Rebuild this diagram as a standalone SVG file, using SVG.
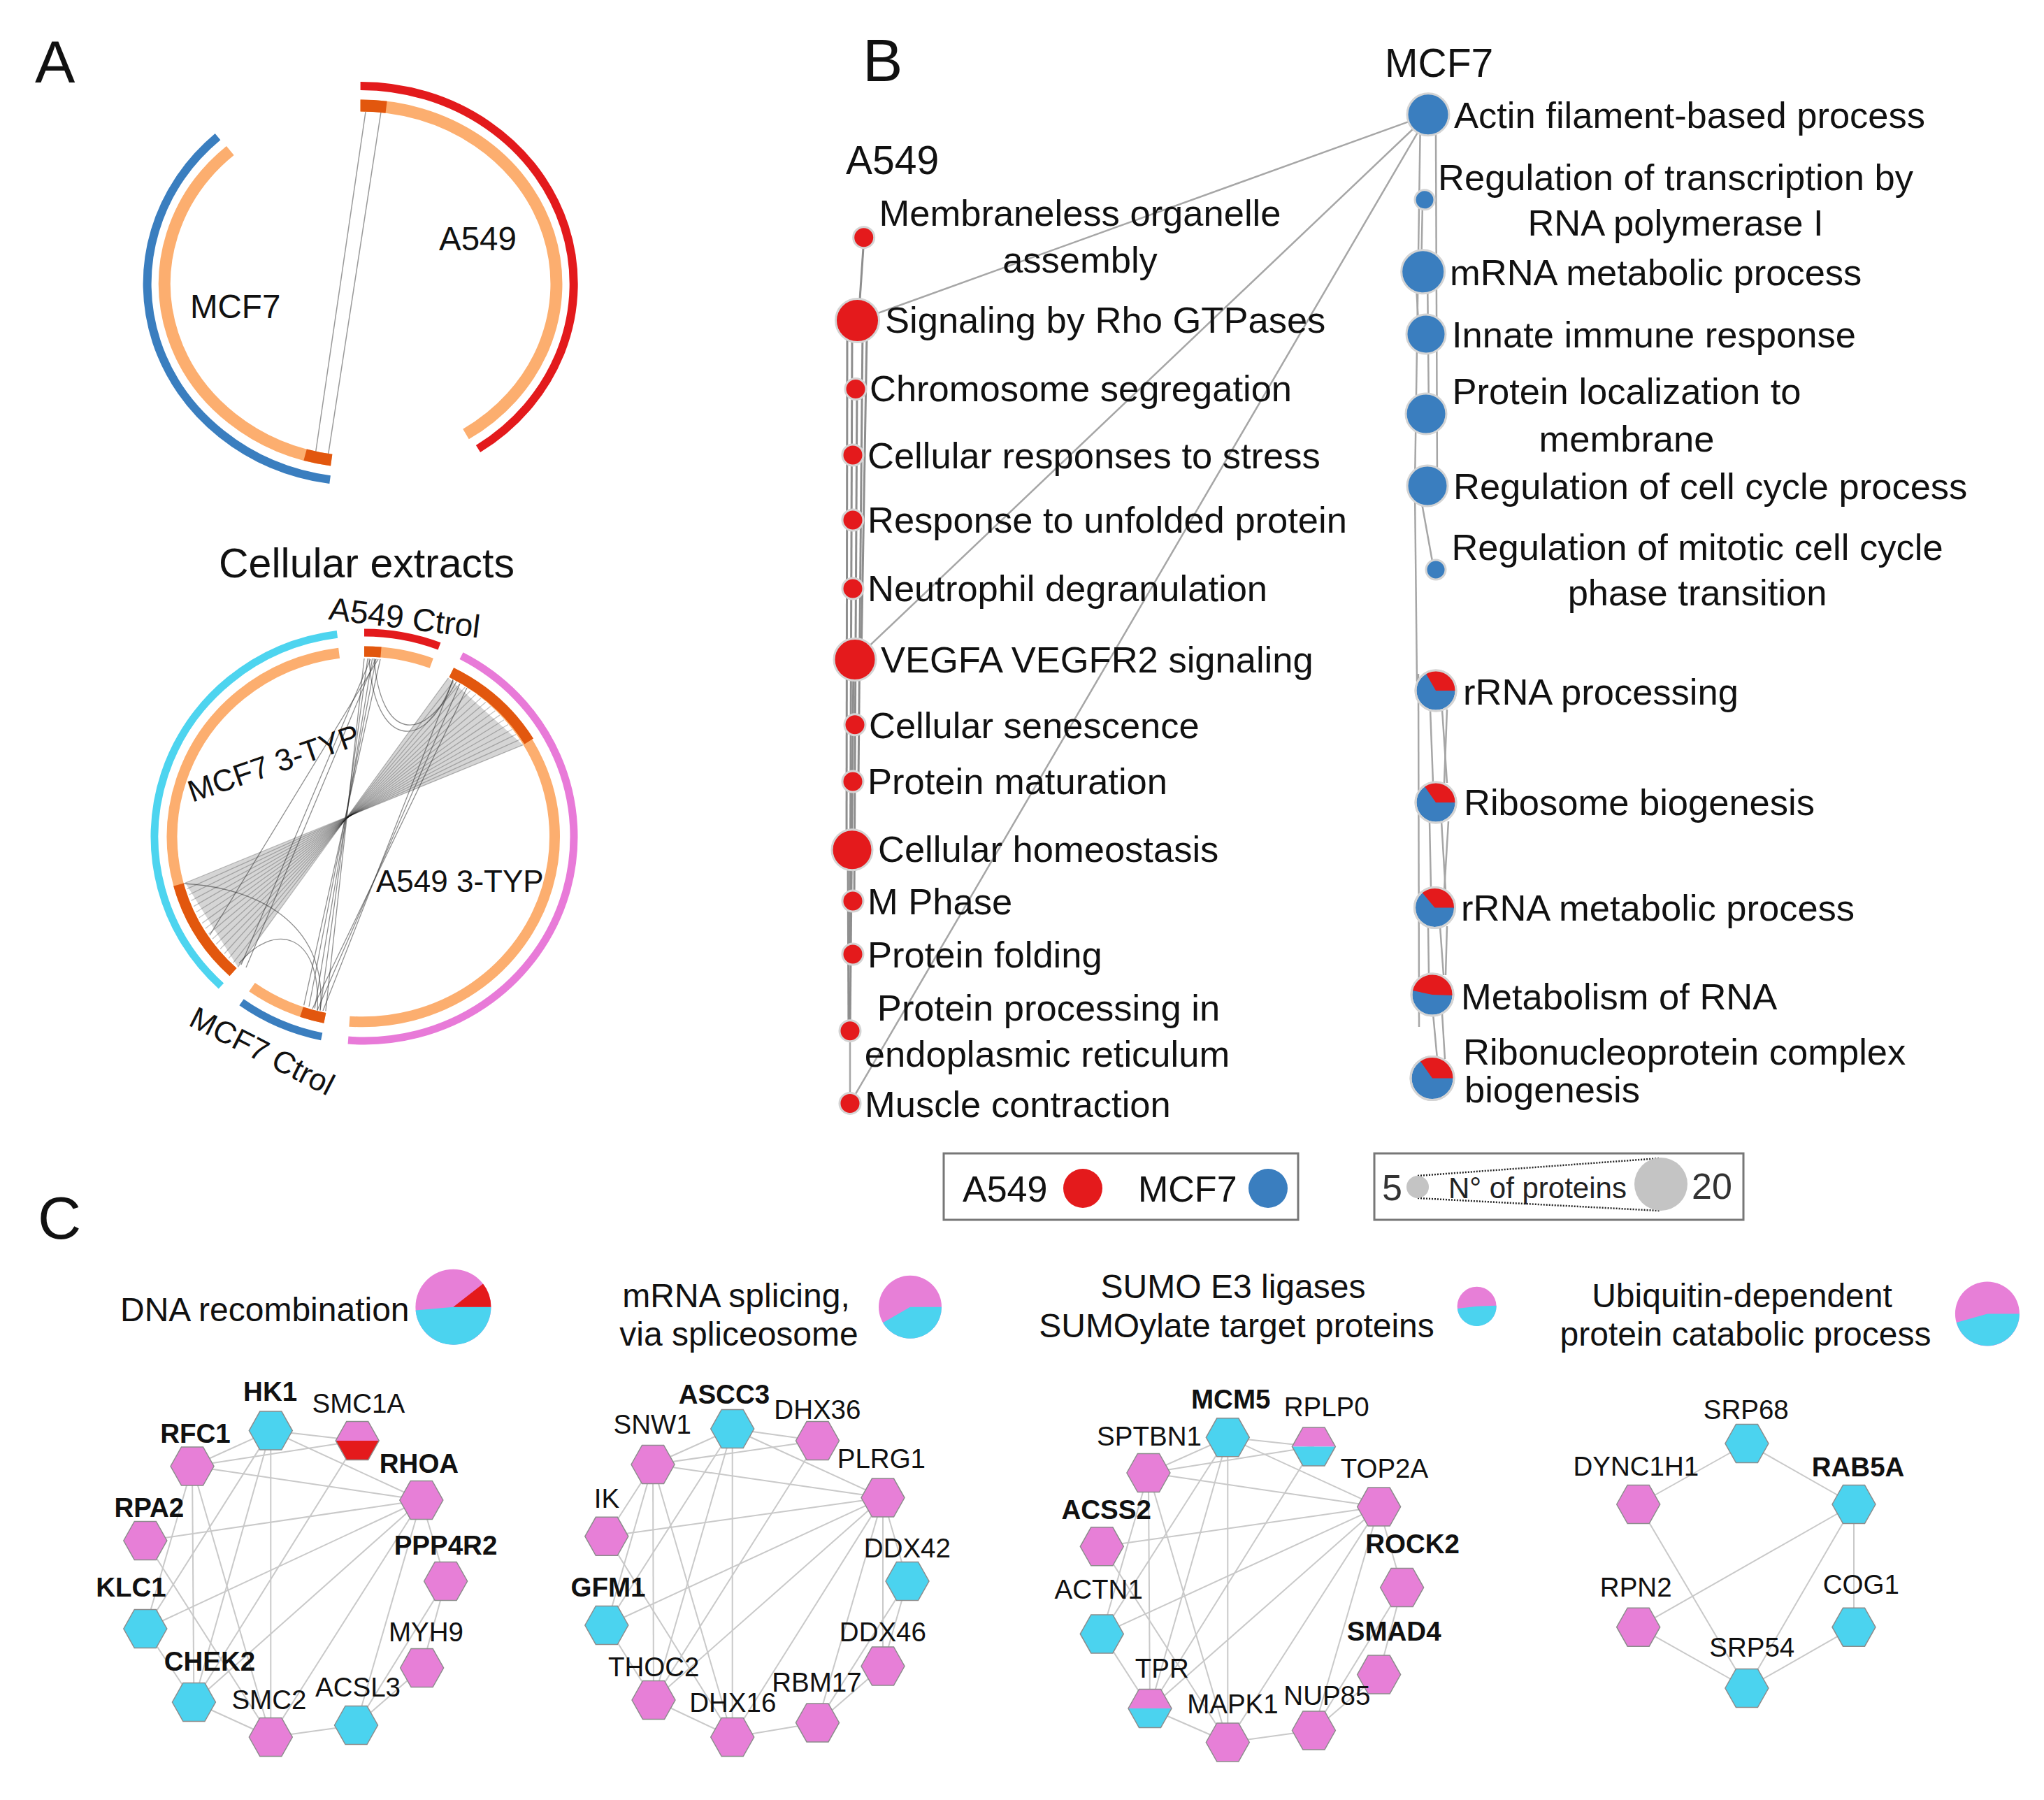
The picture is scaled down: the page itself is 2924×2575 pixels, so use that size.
<svg xmlns="http://www.w3.org/2000/svg" xmlns:xlink="http://www.w3.org/1999/xlink" width="2924" height="2575" viewBox="0 0 2924 2575">
<style>
text{font-family:"Liberation Sans",Arial,Helvetica,sans-serif;fill:#111}
.m{text-anchor:middle}
.pl{font-size:86px}
.al{font-size:47.5px}
.cl{font-size:44px}
.bt{font-size:57px}
.bl{font-size:52.5px}
.gl{font-size:38.5px}
.gb{font-size:38.5px;font-weight:bold}
.ct{font-size:48px}
.e{stroke:#c9c9c9;stroke-width:2;fill:none}
.be{stroke:#a6a6a6;stroke-width:2.5;fill:none}
.bv{stroke:#8e8e8e;stroke-width:3;fill:none}
.red{fill:#e41a1c}
.blu{fill:#3a7ebf}
.nd{stroke:#d4d4d4;stroke-width:3}
.mg{fill:#e77fd7}
.cy{fill:#4bd3ef}
.hx{stroke:#8c8c8c;stroke-width:1.5}
.ho{fill:none;stroke:#8c8c8c;stroke-width:1.5}
.arc{fill:none;stroke-linecap:butt}
.ch{stroke:#000;stroke-opacity:.24;stroke-width:1.3;fill:none}
.ch2{stroke:#333;stroke-opacity:.55;stroke-width:1.3;fill:none}
</style>
<defs>
<polygon id="hx" points="-31,0 -15.5,-27.5 15.5,-27.5 31,0 15.5,27.5 -15.5,27.5"/>
<polygon id="hxT" points="-31,0 -15.5,-27.5 15.5,-27.5 31,0"/>
<polygon id="hxB" points="-31,0 31,0 15.5,27.5 -15.5,27.5"/>
</defs>
<rect width="2924" height="2575" fill="#fff"/>

<!-- panel letters -->
<text class="pl" x="50" y="118">A</text>
<text class="pl" x="1234" y="116">B</text>
<text class="pl" x="54" y="1772">C</text>

<!-- ===== Panel A top chord ===== -->
<g id="chord-top">
<line x1="523" y1="160" x2="451" y2="651" stroke="#9a9a9a" stroke-width="1.5"/>
<line x1="545" y1="160" x2="469" y2="654" stroke="#9a9a9a" stroke-width="1.5"/>
<path class="arc" d="M515.6 123 A305 283 0 0 1 684 642" stroke="#e31a1c" stroke-width="12"/>
<path class="arc" d="M515.6 151 A280 255 0 0 1 666.5 621" stroke="#fcae6f" stroke-width="17"/>
<path class="arc" d="M515.6 151 A280 255 0 0 1 552.6 153.3" stroke="#e2570e" stroke-width="17"/>
<path class="arc" d="M472.1 686.1 A305 283 0 0 1 311.5 195.7" stroke="#3a7ebf" stroke-width="12"/>
<path class="arc" d="M474.2 658.2 A280 255 0 0 1 329.3 215.5" stroke="#fcae6f" stroke-width="17"/>
<path class="arc" d="M474.2 658.2 A280 255 0 0 1 436.6 650.6" stroke="#e2570e" stroke-width="17"/>
<text class="al" x="628" y="358">A549</text>
<text class="al" x="272" y="455">MCF7</text>
</g>

<!-- ===== Panel A bottom chord ===== -->
<g id="chord-cellular">
<text x="313" y="826" style="font-size:59px">Cellular extracts</text>
<polygon points="641.3,969.8 748.2,1065.7 496,1169" fill="#8a8a8a" fill-opacity=".36"/>
<polygon points="265,1263 340.3,1383.5 496,1169" fill="#8a8a8a" fill-opacity=".36"/>
<g class="ch">
<line x1="641.3" y1="969.8" x2="340.3" y2="1383.5"/>
<line x1="649.5" y1="974" x2="333.6" y2="1377.3"/>
<line x1="657.5" y1="978.4" x2="327.2" y2="1370.9"/>
<line x1="665.3" y1="983.1" x2="321" y2="1364.3"/>
<line x1="673" y1="988.1" x2="315.1" y2="1357.5"/>
<line x1="680.5" y1="993.4" x2="309.4" y2="1350.5"/>
<line x1="687.8" y1="998.8" x2="303.9" y2="1343.3"/>
<line x1="694.9" y1="1004.6" x2="298.7" y2="1335.9"/>
<line x1="701.7" y1="1010.5" x2="293.8" y2="1328.3"/>
<line x1="708.4" y1="1016.7" x2="289.2" y2="1320.6"/>
<line x1="714.8" y1="1023.1" x2="284.9" y2="1312.8"/>
<line x1="721" y1="1029.7" x2="280.8" y2="1304.8"/>
<line x1="726.9" y1="1036.5" x2="277.1" y2="1296.6"/>
<line x1="732.6" y1="1043.5" x2="273.6" y2="1288.4"/>
<line x1="738.1" y1="1050.7" x2="270.4" y2="1280"/>
<line x1="743.3" y1="1058.1" x2="267.6" y2="1271.6"/>
<line x1="748.2" y1="1065.7" x2="265" y2="1263"/>
</g>
<g class="ch2">
<line x1="521" y1="942" x2="465.9" y2="1446.4"/>
<line x1="526" y1="942" x2="458" y2="1445"/>
<line x1="532.6" y1="942.2" x2="450.2" y2="1442.7"/>
<line x1="538" y1="942.5" x2="442" y2="1440"/>
<line x1="544" y1="943" x2="434.7" y2="1438.1"/>
<path d="M528 942 C535 1070 610 1080 648 972"/>
<path d="M535 942 C545 1060 605 1065 653 975"/>
<path d="M262 1264 C380 1270 470 1330 458 1446"/>
<path d="M342 1378 C390 1320 460 1330 454 1446"/>
<line x1="648" y1="973" x2="462" y2="1446"/>
<line x1="658" y1="978" x2="454" y2="1445"/>
<line x1="668" y1="984" x2="447" y2="1443"/>
<line x1="345" y1="1380" x2="530" y2="943"/>
<line x1="352" y1="1384" x2="537" y2="943"/>
<line x1="300" y1="1338" x2="541" y2="943"/>
</g>
<path class="arc" d="M316.4 1410.5 A300 292 0 0 1 482.4 907.4" stroke="#4dd4ef" stroke-width="11"/>
<path class="arc" d="M521 905 A300 292 0 0 1 628.5 924.4" stroke="#e31a1c" stroke-width="11"/>
<path class="arc" d="M660 938.2 A300 292 0 0 1 498 1488.1" stroke="#e87ad8" stroke-width="11"/>
<path class="arc" d="M460.2 1482.9 A300 292 0 0 1 345.5 1433.8" stroke="#3a7ebf" stroke-width="11"/>
<path class="arc" d="M521 932 A275 265 0 0 1 617.3 948.8" stroke="#fcae6f" stroke-width="15"/>
<path class="arc" d="M645.8 961.9 A275 265 0 0 1 499.9 1461.2" stroke="#fcae6f" stroke-width="15"/>
<path class="arc" d="M333.5 1390.7 A275 265 0 0 1 485.1 934.3" stroke="#fcae6f" stroke-width="15"/>
<path class="arc" d="M464.8 1456.4 A275 265 0 0 1 360.5 1412.2" stroke="#fcae6f" stroke-width="15"/>
<path class="arc" d="M521 932 A275 265 0 0 1 545 933" stroke="#e2570e" stroke-width="15"/>
<path class="arc" d="M645.8 961.9 A275 265 0 0 1 756.7 1060.5" stroke="#e2570e" stroke-width="15"/>
<path class="arc" d="M333.5 1390.7 A275 265 0 0 1 255.4 1265.6" stroke="#e2570e" stroke-width="15"/>
<path class="arc" d="M464.8 1456.4 A275 265 0 0 1 431.5 1447.6" stroke="#e2570e" stroke-width="15"/>
<text style="font-size:46px" transform="translate(469 886) rotate(7)">A549 Ctrol</text>
<text class="cl" transform="translate(275 1148) rotate(-19)">MCF7 3-TYP</text>
<text class="cl" x="538" y="1276">A549 3-TYP</text>
<text class="cl" transform="translate(268 1466) rotate(27)">MCF7 Ctrol</text>
</g>

<!-- ===== connectors ===== -->
<g id="connectors">
<g id="edges-B">
<line class="be" x1="2043" y1="164" x2="1226.5" y2="458.6"/>
<line class="be" x1="2043" y1="164" x2="1223" y2="943.6"/>
<line class="be" x1="2043" y1="164" x2="1216" y2="1578.4"/>
<line class="bv" x1="1236" y1="340" x2="1228" y2="458"/>
<line class="bv" x1="1212" y1="470" x2="1211" y2="1216"/>
<line class="bv" x1="1219" y1="480" x2="1216" y2="1365"/>
<line class="bv" x1="1240" y1="478" x2="1232" y2="944"/>
<line class="bv" x1="1234" y1="470" x2="1228" y2="1118"/>
<line class="bv" x1="1226" y1="556" x2="1222" y2="1289"/>
<line class="bv" x1="1221" y1="944" x2="1216" y2="1475"/>
<line class="bv" x1="1213" y1="1216" x2="1214" y2="1475"/>
<line class="be" x1="1216" y1="1475" x2="1216" y2="1578"/>
<line class="be" x1="2032" y1="164" x2="2024" y2="695"/>
<line class="be" x1="2054" y1="190" x2="2056" y2="695"/>
<line class="be" x1="2035" y1="290" x2="2033" y2="389"/>
<line class="be" x1="2042" y1="389" x2="2044" y2="592"/>
<line class="be" x1="2026" y1="410" x2="2030" y2="478"/>
<line class="be" x1="2024" y1="700" x2="2027" y2="975"/>
<line class="be" x1="2034" y1="720" x2="2049" y2="803"/>
<line class="be" x1="2029" y1="964" x2="2030" y2="1469"/>
<line class="be" x1="2046" y1="1015" x2="2050" y2="1120"/>
<line class="be" x1="2063" y1="1015" x2="2070" y2="1120"/>
<line class="be" x1="2070" y1="1015" x2="2066" y2="1120"/>
<line class="be" x1="2045" y1="1175" x2="2047" y2="1270"/>
<line class="be" x1="2062" y1="1175" x2="2068" y2="1275"/>
<line class="be" x1="2072" y1="1175" x2="2066" y2="1275"/>
<line class="be" x1="2043" y1="1325" x2="2044" y2="1395"/>
<line class="be" x1="2060" y1="1325" x2="2065" y2="1395"/>
<line class="be" x1="2070" y1="1325" x2="2068" y2="1395"/>
<line class="be" x1="2050" y1="1450" x2="2056" y2="1515"/>
<line class="be" x1="2063" y1="1450" x2="2067" y2="1515"/>
</g>
<g id="edges-C1" class="e">
<line x1="387.3" y1="2046.6" x2="511.2" y2="2061"/>
<line x1="387.3" y1="2046.6" x2="602.8" y2="2146"/>
<line x1="387.3" y1="2046.6" x2="275" y2="2097.5"/>
<line x1="387.3" y1="2046.6" x2="207.8" y2="2330"/>
<line x1="387.3" y1="2046.6" x2="277.4" y2="2435"/>
<line x1="387.3" y1="2046.6" x2="387.3" y2="2485"/>
<line x1="275" y1="2097.5" x2="511.2" y2="2061"/>
<line x1="275" y1="2097.5" x2="602.8" y2="2146"/>
<line x1="275" y1="2097.5" x2="207.8" y2="2330"/>
<line x1="275" y1="2097.5" x2="277.4" y2="2435"/>
<line x1="275" y1="2097.5" x2="387.3" y2="2485"/>
<line x1="511.2" y1="2061" x2="277.4" y2="2435"/>
<line x1="602.8" y1="2146" x2="207.8" y2="2204"/>
<line x1="602.8" y1="2146" x2="207.8" y2="2330"/>
<line x1="602.8" y1="2146" x2="277.4" y2="2435"/>
<line x1="602.8" y1="2146" x2="387.3" y2="2485"/>
<line x1="602.8" y1="2146" x2="509.5" y2="2468"/>
<line x1="602.8" y1="2146" x2="637.6" y2="2262"/>
<line x1="207.8" y1="2204" x2="387.3" y2="2485"/>
<line x1="637.6" y1="2262" x2="603.6" y2="2386"/>
<line x1="637.6" y1="2262" x2="509.5" y2="2468"/>
<line x1="603.6" y1="2386" x2="509.5" y2="2468"/>
<line x1="387.3" y1="2485" x2="509.5" y2="2468"/>
<line x1="277.4" y1="2435" x2="387.3" y2="2485"/>
<line x1="207.8" y1="2330" x2="277.4" y2="2435"/>
</g>
<g id="edges-C2" class="e">
<line x1="1047.7" y1="2044" x2="1169.5" y2="2061"/>
<line x1="1047.7" y1="2044" x2="1263" y2="2142.6"/>
<line x1="1047.7" y1="2044" x2="934" y2="2095"/>
<line x1="1047.7" y1="2044" x2="867.8" y2="2325"/>
<line x1="1047.7" y1="2044" x2="935" y2="2432"/>
<line x1="1047.7" y1="2044" x2="1047.7" y2="2485"/>
<line x1="934" y1="2095" x2="1169.5" y2="2061"/>
<line x1="934" y1="2095" x2="1263" y2="2142.6"/>
<line x1="934" y1="2095" x2="867.8" y2="2197.8"/>
<line x1="934" y1="2095" x2="867.8" y2="2325"/>
<line x1="934" y1="2095" x2="935" y2="2432"/>
<line x1="934" y1="2095" x2="1047.7" y2="2485"/>
<line x1="1169.5" y1="2061" x2="935" y2="2432"/>
<line x1="1263" y1="2142.6" x2="867.8" y2="2197.8"/>
<line x1="1263" y1="2142.6" x2="867.8" y2="2325"/>
<line x1="1263" y1="2142.6" x2="935" y2="2432"/>
<line x1="1263" y1="2142.6" x2="1047.7" y2="2485"/>
<line x1="1263" y1="2142.6" x2="1169.5" y2="2464.4"/>
<line x1="1263" y1="2142.6" x2="1298" y2="2262"/>
<line x1="1263" y1="2142.6" x2="1263" y2="2383.5"/>
<line x1="867.8" y1="2197.8" x2="1047.7" y2="2485"/>
<line x1="867.8" y1="2325" x2="935" y2="2432"/>
<line x1="1298" y1="2262" x2="1263" y2="2383.5"/>
<line x1="1298" y1="2262" x2="1169.5" y2="2464.4"/>
<line x1="1263" y1="2383.5" x2="1169.5" y2="2464.4"/>
<line x1="935" y1="2432" x2="1047.7" y2="2485"/>
<line x1="1047.7" y1="2485" x2="1169.5" y2="2464.4"/>
</g>
<g id="edges-C3" class="e">
<line x1="1756.3" y1="2056.3" x2="1879.4" y2="2069.4"/>
<line x1="1756.3" y1="2056.3" x2="1972.6" y2="2155.6"/>
<line x1="1756.3" y1="2056.3" x2="1642.9" y2="2107"/>
<line x1="1756.3" y1="2056.3" x2="1576.3" y2="2337.4"/>
<line x1="1756.3" y1="2056.3" x2="1645" y2="2444"/>
<line x1="1756.3" y1="2056.3" x2="1756.3" y2="2492.5"/>
<line x1="1642.9" y1="2107" x2="1879.4" y2="2069.4"/>
<line x1="1642.9" y1="2107" x2="1972.6" y2="2155.6"/>
<line x1="1642.9" y1="2107" x2="1576.3" y2="2337.4"/>
<line x1="1642.9" y1="2107" x2="1645" y2="2444"/>
<line x1="1642.9" y1="2107" x2="1756.3" y2="2492.5"/>
<line x1="1879.4" y1="2069.4" x2="1645" y2="2444"/>
<line x1="1972.6" y1="2155.6" x2="1576.3" y2="2212.3"/>
<line x1="1972.6" y1="2155.6" x2="1576.3" y2="2337.4"/>
<line x1="1972.6" y1="2155.6" x2="1645" y2="2444"/>
<line x1="1972.6" y1="2155.6" x2="1756.3" y2="2492.5"/>
<line x1="1972.6" y1="2155.6" x2="1879.4" y2="2475.5"/>
<line x1="1972.6" y1="2155.6" x2="2005.6" y2="2271"/>
<line x1="1576.3" y1="2212.3" x2="1756.3" y2="2492.5"/>
<line x1="1576.3" y1="2337.4" x2="1645" y2="2444"/>
<line x1="2005.6" y1="2271" x2="1972.6" y2="2395.6"/>
<line x1="2005.6" y1="2271" x2="1879.4" y2="2475.5"/>
<line x1="1972.6" y1="2395.6" x2="1879.4" y2="2475.5"/>
<line x1="1645" y1="2444" x2="1756.3" y2="2492.5"/>
<line x1="1756.3" y1="2492.5" x2="1879.4" y2="2475.5"/>
</g>
<g id="edges-C4" class="e">
<line x1="2498.9" y1="2065" x2="2343.7" y2="2152"/>
<line x1="2498.9" y1="2065" x2="2652" y2="2152"/>
<line x1="2343.7" y1="2152" x2="2498.9" y2="2415"/>
<line x1="2652" y1="2152" x2="2343.7" y2="2327.7"/>
<line x1="2652" y1="2152" x2="2498.9" y2="2415"/>
<line x1="2652" y1="2152" x2="2652" y2="2327.7"/>
<line x1="2343.7" y1="2327.7" x2="2498.9" y2="2415"/>
<line x1="2652" y1="2327.7" x2="2498.9" y2="2415"/>
</g>
</g>

<!-- ===== Panel B nodes ===== -->
<text class="bt" x="1210" y="249">A549</text>
<text class="bt" x="1981" y="110">MCF7</text>

<g id="b-membraneless"><circle class="red nd" cx="1235.7" cy="339.7" r="15"/><text class="bl m" x="1545" y="323">Membraneless organelle</text><text class="bl m" x="1545" y="390">assembly</text></g>
<g id="b-rho"><circle class="red nd" cx="1226.5" cy="458.6" r="31"/><text class="bl" x="1266" y="476">Signaling by Rho GTPases</text></g>
<g id="b-chromosome"><circle class="red nd" cx="1224" cy="556.5" r="15"/><text class="bl" x="1244" y="574">Chromosome segregation</text></g>
<g id="b-stress"><circle class="red nd" cx="1220" cy="651" r="15"/><text class="bl" x="1241" y="670">Cellular responses to stress</text></g>
<g id="b-unfolded"><circle class="red nd" cx="1220" cy="744" r="15"/><text class="bl" x="1241" y="762">Response to unfolded protein</text></g>
<g id="b-neutrophil"><circle class="red nd" cx="1220" cy="842" r="15"/><text class="bl" x="1241" y="860">Neutrophil degranulation</text></g>
<g id="b-vegfa"><circle class="red nd" cx="1223" cy="943.6" r="30"/><text class="bl" x="1260" y="962">VEGFA VEGFR2 signaling</text></g>
<g id="b-senescence"><circle class="red nd" cx="1223" cy="1036.8" r="15"/><text class="bl" x="1243" y="1056">Cellular senescence</text></g>
<g id="b-maturation"><circle class="red nd" cx="1220" cy="1118" r="15"/><text class="bl" x="1241" y="1136">Protein maturation</text></g>
<g id="b-homeostasis"><circle class="red nd" cx="1219" cy="1215.8" r="29"/><text class="bl" x="1256" y="1233">Cellular homeostasis</text></g>
<g id="b-mphase"><circle class="red nd" cx="1220" cy="1289" r="15"/><text class="bl" x="1241" y="1308">M Phase</text></g>
<g id="b-folding"><circle class="red nd" cx="1220" cy="1365" r="15"/><text class="bl" x="1241" y="1384">Protein folding</text></g>
<g id="b-processing"><circle class="red nd" cx="1216" cy="1474.7" r="15"/><text class="bl m" x="1500" y="1460">Protein processing in</text><text class="bl m" x="1498" y="1526">endoplasmic reticulum</text></g>
<g id="b-muscle"><circle class="red nd" cx="1216" cy="1578.4" r="15"/><text class="bl" x="1237" y="1598">Muscle contraction</text></g>

<g id="b-actin"><circle class="blu nd" cx="2043" cy="163.8" r="30"/><text class="bl" x="2080" y="183">Actin filament-based process</text></g>
<g id="b-transcription"><circle class="blu nd" cx="2038" cy="285.8" r="14"/><text class="bl m" x="2397" y="272">Regulation of transcription by</text><text class="bl m" x="2397" y="337">RNA polymerase I</text></g>
<g id="b-mrna"><circle class="blu nd" cx="2035.7" cy="388.8" r="31"/><text class="bl" x="2074" y="408">mRNA metabolic process</text></g>
<g id="b-innate"><circle class="blu nd" cx="2040" cy="478" r="28"/><text class="bl" x="2077" y="497">Innate immune response</text></g>
<g id="b-localization"><circle class="blu nd" cx="2040" cy="592" r="29"/><text class="bl m" x="2327" y="578">Protein localization to</text><text class="bl m" x="2327" y="646">membrane</text></g>
<g id="b-cellcycle"><circle class="blu nd" cx="2042" cy="695" r="29"/><text class="bl" x="2079" y="714">Regulation of cell cycle process</text></g>
<g id="b-mitotic"><circle class="blu nd" cx="2054" cy="815" r="14"/><text class="bl m" x="2428" y="801">Regulation of mitotic cell cycle</text><text class="bl m" x="2428" y="866">phase transition</text></g>

<g id="b-rrnaproc"><circle class="blu nd" cx="2054" cy="988" r="29"/><path class="red" d="M2054 988 L2039.5 962.9 A29 29 0 0 1 2083 988 Z"/><circle cx="2054" cy="988" r="29" fill="none" class="nd"/><text class="bl" x="2093" y="1008">rRNA processing</text></g>
<g id="b-ribosome"><circle class="blu nd" cx="2054" cy="1148" r="29"/><path class="red" d="M2054 1148 L2037.4 1124.2 A29 29 0 0 1 2083 1148 Z"/><circle cx="2054" cy="1148" r="29" fill="none" class="nd"/><text class="bl" x="2094" y="1166">Ribosome biogenesis</text></g>
<g id="b-rrnamet"><circle class="blu nd" cx="2052.5" cy="1298.4" r="29"/><path class="red" d="M2052.5 1298.4 L2033.9 1276.2 A29 29 0 0 1 2081.5 1298.4 Z"/><circle cx="2052.5" cy="1298.4" r="29" fill="none" class="nd"/><text class="bl" x="2090" y="1317">rRNA metabolic process</text></g>
<g id="b-metrna"><circle class="blu nd" cx="2049" cy="1423" r="30"/><path class="red" d="M2049 1423 L2019.7 1416.8 A30 30 0 0 1 2079 1424 Z"/><circle cx="2049" cy="1423" r="30" fill="none" class="nd"/><text class="bl" x="2090" y="1444">Metabolism of RNA</text></g>
<g id="b-rnp"><circle class="blu nd" cx="2049" cy="1542.6" r="31"/><path class="red" d="M2049 1542.6 L2031.2 1517.2 A31 31 0 0 1 2080 1542.6 Z"/><circle cx="2049" cy="1542.6" r="31" fill="none" class="nd"/><text class="bl" x="2093" y="1523">Ribonucleoprotein complex</text><text class="bl" x="2095" y="1577">biogenesis</text></g>

<!-- legends -->
<g id="legend-cells">
<rect x="1350" y="1650" width="507" height="95" fill="#fff" stroke="#777" stroke-width="3"/>
<text x="1377" y="1719" style="font-size:52px">A549</text>
<circle class="red" cx="1549" cy="1700" r="28"/>
<text x="1628" y="1719" style="font-size:52px">MCF7</text>
<circle class="blu" cx="1814" cy="1700" r="28"/>
</g>
<g id="legend-size">
<rect x="1966" y="1650" width="528" height="95" fill="#fff" stroke="#777" stroke-width="3"/>
<line x1="2028" y1="1682" x2="2374" y2="1657" stroke="#222" stroke-width="2.5" stroke-dasharray="2 2"/>
<line x1="2028" y1="1714" x2="2374" y2="1732" stroke="#222" stroke-width="2.5" stroke-dasharray="2 2"/>
<text x="1977" y="1717" style="font-size:52px;fill:#333">5</text>
<circle cx="2028" cy="1698" r="16" fill="#c4c4c4"/>
<text x="2072" y="1714" style="font-size:42px;fill:#222">N° of proteins</text>
<circle cx="2376" cy="1694" r="38" fill="#c4c4c4"/>
<text x="2420" y="1715" style="font-size:52px;fill:#333">20</text>
</g>

<!-- ===== Panel C ===== -->
<g id="c-title-dna">
<text class="ct" x="172" y="1890">DNA recombination</text>
<circle class="mg" cx="648.4" cy="1869.7" r="54"/>
<path class="cy" d="M648.4 1869.7 L702.4 1869.7 A54 54 0 0 1 594.6 1874.4 Z"/>
<path class="red" d="M648.4 1869.7 L691 1836.5 A54 54 0 0 1 702.4 1869.7 Z"/>
</g>
<g id="c-title-mrna">
<text class="ct m" x="1053" y="1870">mRNA splicing,</text>
<text class="ct m" x="1057" y="1925">via spliceosome</text>
<circle class="mg" cx="1302" cy="1869.7" r="45"/>
<path class="cy" d="M1302 1869.7 L1347 1869.7 A45 45 0 0 1 1263 1892.2 Z"/>
</g>
<g id="c-title-sumo">
<text class="ct m" x="1764" y="1857">SUMO E3 ligases</text>
<text class="ct m" x="1769" y="1913">SUMOylate target proteins</text>
<circle class="mg" cx="2112.6" cy="1868.7" r="28"/>
<path class="cy" d="M2112.6 1868.7 L2140.6 1867.7 A28 28 0 0 1 2084.8 1872.1 Z"/>
</g>
<g id="c-title-ubiq">
<text class="ct m" x="2492" y="1870">Ubiquitin-dependent</text>
<text class="ct m" x="2497" y="1925">protein catabolic process</text>
<circle class="mg" cx="2842.9" cy="1879.4" r="46"/>
<path class="cy" d="M2842.9 1879.4 L2888.9 1879.4 A46 46 0 0 1 2798.7 1892.1 Z"/>
</g>

<!-- network 1 -->
<g id="n-HK1"><use xlink:href="#hx" x="387.3" y="2046.6" class="cy hx"/><text class="gb m" x="386.6" y="2004">HK1</text></g>
<g id="n-SMC1A"><use xlink:href="#hxT" x="511.2" y="2061" class="mg"/><use xlink:href="#hxB" x="511.2" y="2061" class="red"/><use xlink:href="#hx" x="511.2" y="2061" class="ho"/><text class="gl m" x="512.9" y="2021">SMC1A</text></g>
<g id="n-RFC1"><use xlink:href="#hx" x="275" y="2097.5" class="mg hx"/><text class="gb m" x="279.4" y="2063.5">RFC1</text></g>
<g id="n-RHOA"><use xlink:href="#hx" x="602.8" y="2146" class="mg hx"/><text class="gb m" x="599.5" y="2107">RHOA</text></g>
<g id="n-RPA2"><use xlink:href="#hx" x="207.8" y="2204" class="mg hx"/><text class="gb m" x="213.3" y="2170">RPA2</text></g>
<g id="n-PPP4R2"><use xlink:href="#hx" x="637.6" y="2262" class="mg hx"/><text class="gb m" x="637.5" y="2223.5">PPP4R2</text></g>
<g id="n-KLC1"><use xlink:href="#hx" x="207.8" y="2330" class="cy hx"/><text class="gb m" x="187.5" y="2284">KLC1</text></g>
<g id="n-MYH9"><use xlink:href="#hx" x="603.6" y="2386" class="mg hx"/><text class="gl m" x="609.5" y="2348">MYH9</text></g>
<g id="n-CHEK2"><use xlink:href="#hx" x="277.4" y="2435" class="cy hx"/><text class="gb m" x="299.9" y="2389.7">CHEK2</text></g>
<g id="n-SMC2"><use xlink:href="#hx" x="387.3" y="2485" class="mg hx"/><text class="gl m" x="384.9" y="2445">SMC2</text></g>
<g id="n-ACSL3"><use xlink:href="#hx" x="509.5" y="2468" class="cy hx"/><text class="gl m" x="512" y="2427">ACSL3</text></g>

<!-- network 2 -->
<g id="n-ASCC3"><use xlink:href="#hx" x="1047.7" y="2044" class="cy hx"/><text class="gb m" x="1035.9" y="2007.8">ASCC3</text></g>
<g id="n-DHX36"><use xlink:href="#hx" x="1169.5" y="2061" class="mg hx"/><text class="gl m" x="1169.4" y="2029.6">DHX36</text></g>
<g id="n-SNW1"><use xlink:href="#hx" x="934" y="2095" class="mg hx"/><text class="gl m" x="933.2" y="2051">SNW1</text></g>
<g id="n-PLRG1"><use xlink:href="#hx" x="1263" y="2142.6" class="mg hx"/><text class="gl m" x="1260.9" y="2100">PLRG1</text></g>
<g id="n-IK"><use xlink:href="#hx" x="867.8" y="2197.8" class="mg hx"/><text class="gl m" x="868" y="2157">IK</text></g>
<g id="n-DDX42"><use xlink:href="#hx" x="1298" y="2262" class="cy hx"/><text class="gl m" x="1297.9" y="2228">DDX42</text></g>
<g id="n-GFM1"><use xlink:href="#hx" x="867.8" y="2325" class="cy hx"/><text class="gb m" x="870" y="2284">GFM1</text></g>
<g id="n-DDX46"><use xlink:href="#hx" x="1263" y="2383.5" class="mg hx"/><text class="gl m" x="1262.9" y="2348">DDX46</text></g>
<g id="n-THOC2"><use xlink:href="#hx" x="935" y="2432" class="mg hx"/><text class="gl m" x="935.2" y="2398">THOC2</text></g>
<g id="n-DHX16"><use xlink:href="#hx" x="1047.7" y="2485" class="mg hx"/><text class="gl m" x="1048.3" y="2449">DHX16</text></g>
<g id="n-RBM17"><use xlink:href="#hx" x="1169.5" y="2464.4" class="mg hx"/><text class="gl m" x="1168.4" y="2419.8">RBM17</text></g>

<!-- network 3 -->
<g id="n-MCM5"><use xlink:href="#hx" x="1756.3" y="2056.3" class="cy hx"/><text class="gb m" x="1760.7" y="2015">MCM5</text></g>
<g id="n-RPLP0"><use xlink:href="#hxT" x="1879.4" y="2069.4" class="mg"/><use xlink:href="#hxB" x="1879.4" y="2069.4" class="cy"/><use xlink:href="#hx" x="1879.4" y="2069.4" class="ho"/><text class="gl m" x="1897.7" y="2025.7">RPLP0</text></g>
<g id="n-SPTBN1"><use xlink:href="#hx" x="1642.9" y="2107" class="mg hx"/><text class="gl m" x="1644" y="2068.4">SPTBN1</text></g>
<g id="n-TOP2A"><use xlink:href="#hx" x="1972.6" y="2155.6" class="mg hx"/><text class="gl m" x="1980.4" y="2114.4">TOP2A</text></g>
<g id="n-ACSS2"><use xlink:href="#hx" x="1576.3" y="2212.3" class="mg hx"/><text class="gb m" x="1582.7" y="2172.6">ACSS2</text></g>
<g id="n-ROCK2"><use xlink:href="#hx" x="2005.6" y="2271" class="mg hx"/><text class="gb m" x="2020.6" y="2222">ROCK2</text></g>
<g id="n-ACTN1"><use xlink:href="#hx" x="1576.3" y="2337.4" class="cy hx"/><text class="gl m" x="1571.7" y="2286.5">ACTN1</text></g>
<g id="n-SMAD4"><use xlink:href="#hx" x="1972.6" y="2395.6" class="mg hx"/><text class="gb m" x="1994.2" y="2347">SMAD4</text></g>
<g id="n-TPR"><use xlink:href="#hxT" x="1645" y="2444" class="mg"/><use xlink:href="#hxB" x="1645" y="2444" class="cy"/><use xlink:href="#hx" x="1645" y="2444" class="ho"/><text class="gl m" x="1662.2" y="2400.4">TPR</text></g>
<g id="n-MAPK1"><use xlink:href="#hx" x="1756.3" y="2492.5" class="mg hx"/><text class="gl m" x="1763.4" y="2451.3">MAPK1</text></g>
<g id="n-NUP85"><use xlink:href="#hx" x="1879.4" y="2475.5" class="mg hx"/><text class="gl m" x="1898.4" y="2439">NUP85</text></g>

<!-- network 4 -->
<g id="n-SRP68"><use xlink:href="#hx" x="2498.9" y="2065" class="cy hx"/><text class="gl m" x="2497.8" y="2029.6">SRP68</text></g>
<g id="n-DYNC1H1"><use xlink:href="#hx" x="2343.7" y="2152" class="mg hx"/><text class="gl m" x="2340.4" y="2111">DYNC1H1</text></g>
<g id="n-RAB5A"><use xlink:href="#hx" x="2652" y="2152" class="cy hx"/><text class="gb m" x="2658.1" y="2112">RAB5A</text></g>
<g id="n-RPN2"><use xlink:href="#hx" x="2343.7" y="2327.7" class="mg hx"/><text class="gl m" x="2340.2" y="2284">RPN2</text></g>
<g id="n-COG1"><use xlink:href="#hx" x="2652" y="2327.7" class="cy hx"/><text class="gl m" x="2662.3" y="2280">COG1</text></g>
<g id="n-SRP54"><use xlink:href="#hx" x="2498.9" y="2415" class="cy hx"/><text class="gl m" x="2506.3" y="2370">SRP54</text></g>
</svg>
